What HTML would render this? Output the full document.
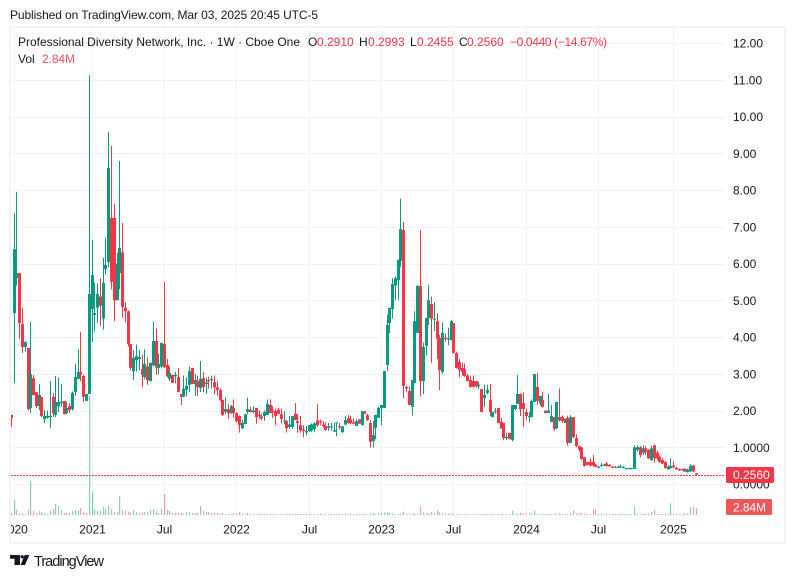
<!DOCTYPE html>
<html>
<head>
<meta charset="utf-8">
<style>
html,body{margin:0;padding:0;background:#fff;width:795px;height:578px;overflow:hidden}
svg{display:block;font-family:"Liberation Sans",sans-serif}
</style>
</head>
<body>
<svg id="chart" width="795" height="578" viewBox="0 0 795 578" xmlns="http://www.w3.org/2000/svg">
<defs><clipPath id="paneClip"><rect x="11" y="28" width="714" height="514"/></clipPath></defs>
<rect x="10" y="27" width="775" height="516" fill="#fff" stroke="#f2f3f5" stroke-width="2"/>
<g id="grid"></g>
<g id="volumes" clip-path="url(#paneClip)"></g>
<line id="lastLine" x1="11" x2="725" stroke="#f23645" stroke-width="1" stroke-dasharray="2 1" shape-rendering="crispEdges"/>
<g id="candles" clip-path="url(#paneClip)"></g>
<g id="yTicks"></g>
<g id="xTicks" clip-path="url(#paneClip)"></g>
<text x="10" y="19" font-size="12" fill="#131722" textLength="308">Published on TradingView.com, Mar 03, 2025 20:45 UTC-5</text>
<g font-size="12" fill="#131722">
<text x="18" y="46" textLength="282">Professional Diversity Network, Inc. · 1W · Cboe One</text>
<text x="308" y="46">O</text>
<text x="317" y="46" fill="#f23645">0.2910</text>
<text x="359" y="46">H</text>
<text x="368" y="46" fill="#f23645">0.2993</text>
<text x="410" y="46">L</text>
<text x="417" y="46" fill="#f23645">0.2455</text>
<text x="459" y="46">C</text>
<text x="467" y="46" fill="#f23645">0.2560</text>
<text x="510" y="46" fill="#f23645" textLength="97">−0.0440 (−14.67%)</text>
<text x="18" y="63">Vol</text>
<text x="42" y="63" fill="#f0555a" textLength="33">2.84M</text>
</g>
<rect x="726" y="467" width="48" height="16" rx="1.5" fill="#f23645"/>
<text x="733" y="479" font-size="12" fill="#fff">0.2560</text>
<rect x="726" y="499" width="46" height="16" rx="1.5" fill="#f0555a"/>
<text x="733" y="511.5" font-size="12" fill="#fff" textLength="33">2.84M</text>
<g>
<path d="M10 555H20V565H14.5V558.7H10ZM24.6 555H29.4L25 565H20.6Z" fill="#131722"/>
<circle cx="22.2" cy="556.8" r="1.7" fill="#131722"/>
<text x="34" y="566" font-size="14.5" fill="#131722" textLength="70">TradingView</text>
</g>
</svg>
<script>
const opens = [
1.88,4.65,5.6,5.74,4.35,3.73,3.7,2.07,2.88,2.5,
2.12,2.37,1.77,1.8,1.82,2.37,1.88,2.12,2.2,2.26,
1.93,2.12,2.04,2.5,2.86,3.05,2.94,2.26,2.45,4.76,
4.6,4.8,5.1,4.5,5.85,6.04,7.24,7.24,5,5.74,
6.3,4.8,4.7,3.81,3.07,3.37,3.4,3.13,2.91,3.2,
2.8,3.23,3.89,3.16,3.2,3.81,3.24,2.86,2.97,2.93,
2.91,2.45,2.37,2.56,2.7,3.16,2.72,2.8,2.61,2.88,
2.72,2.83,2.82,2.77,2.63,2.56,2.29,1.96,2.04,1.93,
2.07,1.93,1.85,1.52,1.63,1.96,2.02,1.96,2.07,1.88,
1.84,1.85,1.88,2.15,2,1.99,2.02,1.9,1.7,1.71,
1.55,1.55,1.91,1.71,1.6,1.48,1.4,1.44,1.46,1.49,
1.73,1.71,1.62,1.58,1.53,1.54,1.42,1.66,1.57,1.41,
1.62,1.79,1.76,1.68,1.58,1.76,1.6,1.98,1.87,1.66,
1.17,1.53,1.8,2.07,2.07,3.24,4.38,4.76,5.4,5.55,
6.07,6.91,2.64,2.53,2.1,2.75,4.11,5.39,2.8,3.76,
4.52,4.9,4.47,4.43,3.97,3.05,3.98,3.93,3.92,4.38,
3.56,3.32,3.16,3.13,2.95,2.83,2.8,2.8,2.66,2.58,
2.34,2.48,2.29,1.82,1.96,2.07,1.69,1.66,1.25,1.39,
1.2,2.04,2.18,2.45,2.2,1.96,1.82,1.82,2.23,2.64,
2.2,2.29,2,1.93,1.69,1.82,1.52,1.82,1.82,1.66,
1.8,1.12,1.82,1.25,1.03,1,.73,.6,.6,.6,
.53,.44,.49,.51,.56,.52,.47,.47,.45,.45,
.43,.41,.41,.41,.41,.93,1,.85,.97,.93,
.65,1.05,.85,.74,.65,.6,.4,.43,.5,.44,
.41,.37,.41,.32,.34,.5,.291];
const highs = [
1.88,7.37,7.95,5.74,4.79,3.9,3.7,4.41,2.97,2.5,
2.72,2.37,2.01,2,2.8,2.48,2.94,2.9,2.72,2.26,
2.23,2.2,2.52,3.27,3.67,4.14,2.97,2.45,11.12,6.64,
5.47,5.45,5.6,6.15,6.7,9.58,9.2,7.62,6.29,8.79,
7.1,4.95,4.72,3.81,3.65,3.8,3.65,3.52,3.66,3.45,
3.3,4.41,4.23,3.55,3.84,5.5,3.4,3.2,2.97,3.05,
3.16,2.45,2.95,2.9,3.2,3.16,3,2.95,3.35,3.05,
2.9,2.92,2.95,2.95,2.8,2.6,2.3,2.36,2.18,2.15,
2.3,1.95,1.87,1.75,1.9,2.35,2.1,2.12,2.07,2,
1.92,2,2.3,2.3,2.12,2.05,2.07,2.05,1.98,1.75,
1.85,1.85,2.2,1.9,1.85,1.6,1.58,1.6,1.65,1.68,
2.17,1.75,1.7,1.68,1.66,1.66,1.66,1.68,1.66,1.57,
1.85,1.88,1.86,1.78,1.76,1.76,1.98,1.98,1.91,1.74,
1.71,1.88,2.1,2.15,3.07,4.6,4.8,5.6,5.65,6.1,
7.76,7.13,2.68,2.64,2.83,4.7,5.41,6.91,3.85,4.52,
5.42,5.1,4.95,4.65,4.05,4.4,4.08,4.25,4.47,4.38,
3.6,3.4,3.3,3.28,3,2.95,2.95,2.8,2.78,2.58,
2.7,2.7,2.72,1.96,2.07,2.07,1.8,1.66,1.4,1.39,
2.15,2.15,2.97,2.46,2.49,2.05,1.96,2.3,2.99,3.02,
2.4,2.5,2,2.45,2.15,1.82,2.23,2.6,1.86,1.78,
1.86,1.87,1.82,1.35,1.05,1,.73,.6,.7,.79,
.55,.5,.57,.55,.6,.54,.49,.49,.5,.52,
.49,.44,.44,.44,1.05,1.05,1.03,1.05,1.03,.95,
1.05,1.08,.9,.78,.7,.62,.5,.7,.62,.47,
.42,.42,.43,.42,.54,.52,.2993];
const lows = [
1.55,2.75,5.4,3.95,3.56,3.6,2,1.93,2.42,2.07,
2.01,1.82,1.66,1.78,1.52,1.82,1.82,1.95,2.1,1.9,
1.9,1.93,2,2.4,2.86,2.8,2.23,2.26,2.45,3.86,
4.15,4.38,4.3,4.2,5.7,5.9,5.3,4.43,5,5.3,
4.53,4.4,3.74,3.1,2.83,3.06,3.1,2.64,2.85,2.7,
2.8,3.2,2.97,2.98,3.15,3.15,2.9,2.8,2.75,2.74,
2.5,2.15,2.37,2.38,2.5,2.72,2.4,2.4,2.5,2.5,
2.45,2.6,2.6,2.45,2.4,2.25,1.85,1.9,1.77,1.9,
1.8,1.68,1.4,1.5,1.63,1.9,1.95,1.92,1.64,1.78,
1.74,1.72,1.88,1.93,1.8,1.6,1.9,1.65,1.62,1.4,
1.5,1.5,1.74,1.4,1.4,1.27,1.32,1.42,1.42,1.42,
1.55,1.6,1.53,1.45,1.45,1.45,1.42,1.3,1.48,1.39,
1.6,1.64,1.63,1.62,1.58,1.64,1.6,1.91,1.72,.99,
.99,1.22,1.8,1.6,2.07,3.07,4.1,4.5,5,5,
5.9,2.34,2.5,2.15,1.86,2.75,4.11,2.39,2.45,3.5,
4.33,3.3,4.16,3.4,2.55,3,3.88,3.78,3.92,3.56,
3.14,2.9,2.95,2.92,2.8,2.62,2.64,2.62,2.58,1.96,
2.1,2.44,1.85,1.82,1.92,1.66,1.5,1.2,1.2,1.22,
1.16,2,2.18,1.85,1.55,1.75,1.68,1.82,2.23,2.15,
2.13,2.08,1.93,1.93,1.69,1.45,1.5,1.7,1.66,1.66,
1.05,1.1,1.25,1,.88,.66,.47,.5,.48,.48,
.45,.43,.47,.49,.47,.47,.43,.44,.44,.44,
.42,.4,.4,.4,.41,.88,.73,.78,.8,.68,
.63,.58,.65,.58,.54,.42,.39,.42,.44,.39,
.36,.36,.33,.31,.33,.33,.2455];
const closes = [
1.8,6.39,5.74,4.38,3.73,3.86,2.04,2.99,2.42,2.12,
2.42,1.85,1.85,1.85,1.85,1.93,2.23,2.23,2.24,1.9,
2.07,2.01,2.48,2.91,3.05,2.97,2.37,2.45,5.17,5.69,
4.65,5.17,4.85,5.47,5.96,8.6,5.5,5,6,6.42,
4.82,4.7,3.81,3.16,3.43,3.48,3.45,2.97,3.27,2.83,
3.3,3.89,3.17,3.27,3.84,3.18,2.94,3.02,2.75,2.97,
2.5,2.37,2.59,2.67,3.07,2.72,2.83,2.64,2.86,2.64,
2.76,2.8,2.86,2.63,2.56,2.29,1.88,2.04,1.92,2.12,
1.93,1.71,1.6,1.66,1.9,2.04,1.96,2,1.82,1.86,
1.78,1.96,2.18,1.93,1.96,1.85,1.91,1.77,1.73,1.52,
1.62,1.85,1.74,1.66,1.46,1.44,1.44,1.6,1.62,1.65,
1.6,1.68,1.58,1.47,1.57,1.57,1.46,1.68,1.54,1.57,
1.74,1.66,1.66,1.64,1.71,1.64,1.98,1.91,1.74,1.15,
1.33,1.88,2.07,2.15,3.07,4.33,4.79,5.44,5.6,6.1,
6.94,2.67,2.6,2.15,2.83,4.43,5.39,2.8,3.73,4.52,
5,4.5,4.5,3.95,3.1,4.11,3.95,3.97,4.43,3.56,
3.16,3.1,3.05,2.94,2.8,2.64,2.64,2.66,2.7,1.96,
2.42,2.56,1.96,1.96,1.98,1.66,1.52,1.25,1.28,1.22,
2.15,2.15,2.45,2.04,2.04,1.85,1.85,2.26,2.99,2.26,
2.4,2.1,1.93,2,1.85,1.5,2.23,1.73,1.71,1.78,
1.12,1.82,1.28,1.03,.93,.68,.49,.52,.5,.5,
.47,.47,.52,.54,.49,.48,.44,.45,.47,.48,
.46,.43,.43,.43,1,1,.79,.97,.88,.7,
.97,.7,.7,.6,.56,.43,.47,.49,.45,.4,
.37,.4,.34,.4,.5,.34,.256];
const volumes = [
.9,6.5,2.2,.7,.7,.4,2.2,14.8,1.7,.9,
1.7,1.3,.9,.4,1.7,2.6,4.8,3.9,2.2,.9,
.9,.9,1.7,2.2,2,3,1.3,.9,52,10,
2.2,1.7,1.9,3.5,2.6,3.9,2.6,1.3,1.3,8.3,
2.2,2,1.5,1.1,2.2,1.3,.9,1.3,1.3,1.3,
2.2,2.6,1.7,.9,2.6,9.1,2.2,1.7,.9,.9,
.9,.9,.4,1.3,1.3,.9,.9,.9,3.9,1.7,
1.3,1.3,.9,.9,.9,.4,.9,.4,.4,.4,
.9,.4,1.3,.4,.4,.9,.4,.4,.4,.4,
.4,.4,.4,.4,.4,.4,.4,.4,.4,.4,
.4,.4,.4,.4,.4,.4,.4,.4,.4,.4,
.4,.7,.4,.4,.4,.4,.4,.4,.4,.4,
.7,.4,.4,.4,.4,.4,.4,.4,.4,.7,
.7,.4,.7,1,1.1,1.1,.9,.7,.4,.4,
.7,1.4,.4,.4,.4,.7,.4,3.6,1.2,.9,
.7,1.4,.7,1.9,1.2,.7,.4,.7,.7,.4,
.4,.4,.4,.4,.4,.4,.4,.4,.4,.4,
.4,.4,.4,.4,.4,.4,.4,.4,.4,.4,
1.9,.4,.7,1,.6,.4,.4,.7,1.9,.4,
.4,.4,.4,.4,.4,.4,.4,.7,.4,.4,
.4,1,1.9,.7,.7,.7,.6,.4,.4,2.8,
2.2,.4,.6,.4,.4,.4,.4,.4,.4,.4,
.4,.4,.4,.4,3.6,.4,.4,.4,.4,.6,
1.3,2.2,.4,.4,.4,.4,.6,5.1,.6,.4,
.4,.4,.6,.7,3.3,3.6,2.84];
const lastClose = 0.256;
const priceTicks = [12,11,10,9,8,7,6,5,4,3,2,1,0];
const priceTickLabels = ["12.00","11.00","10.00","9.00","8.00","7.00","6.00","5.00","4.00","3.00","2.00","1.0000","0.0000"];
const timeTickBars = [1,29,55,81,107,133,159,185,211,238];
const timeTickLabels = ["2020","2021","Jul","2022","Jul","2023","Jul","2024","Jul","2025"];

const NS = "http://www.w3.org/2000/svg";
const xScale = i => 11.3 + i * 684.7 / 246;
const yScale = p => 484 - 36.75 * p;
const volHeight = v => v * 2.3;
const UP = "#089981", DOWN = "#f23645";

function mk(tag, parent, attrs) {
  const el = document.createElementNS(NS, tag);
  for (const k in attrs) el.setAttribute(k, attrs[k]);
  parent.appendChild(el);
  return el;
}
const grid = document.getElementById("grid");
const yG = document.getElementById("yTicks");
const xG = document.getElementById("xTicks");
const volG = document.getElementById("volumes");
const candleG = document.getElementById("candles");

priceTicks.forEach((p, i) => {
  const y = Math.round(yScale(p)) + 0.5;
  const line = mk("line", grid, {x1: 11, x2: 725, y1: y, y2: y, stroke: "#f1f2f4", "stroke-width": 1});
  
  
  const t = mk("text", yG, {x: 733, y: yScale(p) + 4.5, "font-size": 12, fill: "#131722"});
  t.textContent = priceTickLabels[i];
  
  
});
timeTickBars.forEach((b, i) => {
  const x = Math.floor(xScale(b)) + 0.5;
  const line = mk("line", grid, {x1: x, x2: x, y1: 28, y2: 517, stroke: "#f1f2f4", "stroke-width": 1});
  
  
  const t = mk("text", xG, {x: x, y: 533.5, "font-size": 12, fill: "#131722", "text-anchor": "middle"});
  t.textContent = timeTickLabels[i];
  
  
});
const last = document.getElementById("lastLine");
last.setAttribute("y1", Math.round(yScale(lastClose)) + 0.5);
last.setAttribute("y2", Math.round(yScale(lastClose)) + 0.5);

volumes.forEach((v, i) => {
  const up = closes[i] >= opens[i];
  const h = volHeight(v);
  const bar = mk("rect", volG, {x: Math.floor(xScale(i)), y: 515 - h, width: 1.2, height: h, fill: up ? UP : DOWN, "fill-opacity": 0.48});
  
  
});
opens.forEach((o, i) => {
  const c = closes[i];
  const col = c >= o ? UP : DOWN;
  const cx = Math.floor(xScale(i));
  const wick = mk("rect", candleG, {x: cx, y: yScale(highs[i]), width: 1, height: Math.max(1, yScale(lows[i]) - yScale(highs[i])), fill: col});
  
  
  const top = yScale(Math.max(o, c));
  const body = mk("rect", candleG, {x: cx - 1, y: top, width: 3, height: Math.max(1, yScale(Math.min(o, c)) - top), fill: col});
  
  
});
</script>
</body>
</html>
